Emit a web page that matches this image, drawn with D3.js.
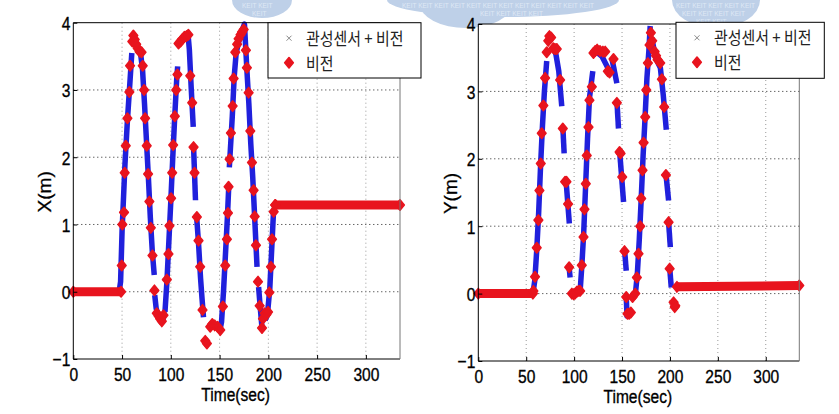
<!DOCTYPE html>
<html><head><meta charset="utf-8">
<script src="https://cdn.jsdelivr.net/npm/d3@7"></script>
<style>body{margin:0;background:#fff}svg{display:block}</style>
</head><body>
<svg id="c" width="839" height="414"></svg>
<script>
// ---------- data ----------
const timeTicks = [0, 50, 100, 150, 200, 250, 300];
const valueTicks = [-1, 0, 1, 2, 3, 4];
const legendLabels = ["관성센서 + 비전", "비전"];
const yTitles = ["X(m)", "Y(m)"];
const xTitle = "Time(sec)";
const watermarkWord = "KEIT";

// X(m): vision fixes [time, value]
const xVision = [[49.7,0.39],[50.3,1.0],[52,1.18],[52.7,1.77],[53.8,2.17],[55.5,2.58],[57.5,2.97],[58.2,3.36],[60.5,3.72],[61.6,3.81],[63,3.75],[64.5,3.68],[66,3.62],[68,3.57],[70,3.56],[71.2,3.36],[72.6,3.0],[73.6,2.58],[75.3,2.17],[76.7,1.75],[78,1.34],[79.5,0.95],[81.2,0.54],[83.2,0.02],[85.6,-0.32],[87.5,-0.36],[89,-0.4],[90.8,-0.44],[92.5,-0.35],[95.9,0.18],[97.6,0.56],[98.6,0.98],[100.3,1.39],[101.4,1.77],[102.4,2.18],[104.1,2.61],[105.5,3.0],[106.8,3.23],[107.9,3.69],[110,3.72],[112,3.76],[114,3.79],[116,3.8],[118,3.82],[119.9,3.21],[121.9,2.81],[123.3,2.15],[124.3,1.77],[126.7,1.11],[128.4,0.76],[130.1,0.37],[132.5,-0.27],[135.3,-0.73],[137,-0.77],[140.4,-0.52],[142.5,-0.48],[145,-0.5],[148,-0.52],[150.7,-0.57],[153.4,-0.22],[155.8,0.39],[157.5,0.78],[158.6,1.17],[159.2,1.56],[160.3,1.97],[161.6,2.36],[163.4,2.76],[164.4,3.17],[166.1,3.56],[168,3.68],[169.5,3.76],[171.5,3.82],[173,3.86],[174.7,3.9],[177,3.59],[178,3.33],[179.8,2.96],[181.5,2.39],[183.2,1.92],[184.9,1.51],[186,1.12],[187.3,0.69],[189.4,0.15],[191.1,-0.21],[193.5,-0.54],[194.5,-0.4],[196.2,-0.32],[198,-0.34],[199.7,-0.3],[201,-0.01],[202.7,0.37],[203.8,0.78],[205.5,1.19],[207.2,1.29]];
// dense constant stretches of vision fixes [t0, t1, v0, v1]
const xVisionRuns = [[0,49,0,0],[207,335,1.29,1.29]];
// inertial + vision (fused) segments
const xFused = [
  [[0,0],[47,0],[48.5,0.15],[50,0.9],[53,1.9],[55.5,2.55],[58,3.1],[60,3.55]],
  [[68.5,3.6],[71,3.3],[73,2.8],[75,2.25],[77,1.7],[79,1.1],[81,0.6],[83,0.25]],
  [[83.5,-0.05],[85,-0.25],[87,-0.35],[90,-0.45],[92,-0.42],[93.5,-0.3]],
  [[94,-0.3],[96,0.15],[98,0.75],[100,1.35],[102,2.0],[104,2.6],[106,3.15],[107,3.35]],
  [[117.5,3.85],[119,3.6],[121,3.0],[123,2.45]],
  [[123.3,2.17],[125.3,1.36]],
  [[126.3,1.15],[128.5,0.7],[130.5,0.2],[132,-0.1],[133.5,-0.38]],
  [[150,-0.6],[152,-0.45],[154,0.0],[156,0.55],[158,1.1],[159.5,1.6]],
  [[160,1.85],[163,2.6],[165,3.2],[167,3.55],[171,3.8],[175.5,3.98],[178,3.3],[180,2.8],[182,2.2],[184,1.7],[186,1.1],[188.4,0.37]],
  [[190,0.07],[191.5,-0.2],[193.5,-0.54]],
  [[196.6,-0.42],[199,-0.35],[201.5,0.05],[203.5,0.65],[205.2,1.16],[207,1.29],[335,1.29]]
];

// Y(m)
const yVision = [[57.5,0.04],[59.2,0.25],[61,0.68],[62.7,1.09],[63.8,1.53],[65.2,1.93],[66.2,2.38],[67.9,2.79],[69.7,3.2],[71.4,3.58],[73,3.75],[74.2,3.82],[76,3.8],[78.4,3.64],[80,3.63],[81.9,3.63],[85.4,3.17],[88.2,2.45],[90.6,1.66],[92,1.66],[93.7,1.33],[94.8,0.39],[97.6,0.0],[99.5,-0.01],[101,0.0],[103,0.03],[105,0.04],[106.3,0.04],[108,0.42],[109.8,0.84],[110.8,1.25],[112.2,1.63],[113.2,2.05],[115,2.47],[116,2.87],[118.5,3.07],[120.2,3.57],[122,3.6],[124,3.62],[127,3.6],[130,3.59],[132.4,3.59],[135.2,3.3],[137,3.28],[141.1,3.48],[144.6,2.83],[147.4,2.1],[148.5,2.08],[150.2,1.73],[152.6,0.63],[154.4,-0.05],[155.7,-0.3],[157.5,-0.3],[159.2,-0.28],[161,-0.05],[163.8,0.0],[165.5,0.24],[167.2,0.59],[169,1.0],[170,1.41],[171.4,1.83],[172.5,2.24],[174.2,2.62],[175.3,3.02],[177,3.42],[178.7,3.69],[180.1,3.87],[181.5,3.75],[184,3.59],[185.5,3.53],[187.1,3.47],[189.9,3.42],[191.6,3.18],[194,2.77],[195.8,1.76],[198.6,1.06],[199.7,0.37],[203.8,-0.13],[205,-0.2],[205.6,-0.18]];
const yVisionRuns = [[0,57,0,0],[207.3,335,0.1,0.12]];
const yFused = [
  [[0,0],[57,0],[59,0.2],[61,0.65],[63,1.2],[65,1.9],[67,2.5],[69,3.0],[71.4,3.45]],
  [[78.4,3.67],[81,3.55],[84,3.3],[87.1,2.78]],
  [[88.2,2.48],[89.6,2.08]],
  [[90.6,1.68],[92,1.6],[95,1.04]],
  [[94.8,0.39],[95.8,0.24]],
  [[97.6,0],[106.3,0.04],[108,0.4],[110,0.9],[112,1.6],[114,2.3],[116,2.9],[119.5,3.3]],
  [[122,3.6],[129,3.52],[136.2,3.32]],
  [[139.4,3.49],[144.6,3.12]],
  [[144.6,2.87],[146.3,2.45]],
  [[147.4,2.13],[151.6,1.36]],
  [[152.6,0.66],[154.4,0.34]],
  [[154.4,-0.05],[155.2,-0.33],[160,-0.25]],
  [[162,-0.05],[164,0.0],[166,0.3],[168,0.8],[170,1.4],[172,2.05],[174,2.6],[176,3.2],[178,3.6],[179.4,3.97]],
  [[181,3.8],[185,3.5],[190,3.35],[193,2.95],[196.2,2.43]],
  [[195.8,1.78],[198.6,1.38]],
  [[198.6,1.06],[200.4,0.69]],
  [[199.7,0.39],[201.4,0.09]],
  [[207.3,0.1],[335,0.12]]
];

// ---------- drawing ----------
const svg = d3.select("#c");
const RED = "#e8141e", BLUE = "#2020dc";
const NUMFONT = "'Liberation Sans', Arial, sans-serif";
const KRFONT = "'Noto Sans CJK KR', 'Noto Sans', sans-serif";

// watermark (behind everything)
const wm = svg.append("g");
const blobs = [
  {cx:262, cy:0, rx:30, ry:18},
  {cx:503, cy:0, rx:116, ry:17},
  {cx:466, cy:4, rx:46, ry:24},
  {cx:716, cy:0, rx:44, ry:28}
];
// watermark text rows: [x, baseline, repeat count]
const wmRows = [[242,8,2],[252,16,1],[402,8,12],[480,16,4],[676,8,5],[682,16,4],[696,24,2]];
blobs.forEach(b => wm.append("ellipse").attr("cx",b.cx).attr("cy",b.cy).attr("rx",b.rx).attr("ry",b.ry).attr("fill","#bed0e8"));
wmRows.forEach(r => {
  wm.append("text").attr("x", r[0]).attr("y", r[1])
    .attr("font-family", NUMFONT).attr("font-size", 6.5).attr("fill", "#dfe8f5")
    .text(d3.range(r[2]).map(()=>watermarkWord).join(" "));
});

const panels = [
  {vision:xVision, runs:xVisionRuns, fused:xFused, title:yTitles[0],
   px0:73.3, px1:400, py0:359, py1:22.7, titleX:51, legend:[268,22.7,421,78]},
  {vision:yVision, runs:yVisionRuns, fused:yFused, title:yTitles[1],
   px0:478.3, px1:799.3, py0:361, py1:24, titleX:457, legend:[676,22.3,824.3,78.3]}
];

function diamond(g, x, y, fill) {
  g.append("path")
    .attr("d", `M${x},${y-5.2}L${x+4.3},${y}L${x},${y+5.2}L${x-4.3},${y}Z`)
    .attr("fill", fill).attr("stroke", fill).attr("stroke-width", 1.6).attr("stroke-linejoin","round");
}

panels.forEach((p, idx) => {
  const x = d3.scaleLinear().domain([0, 335]).range([p.px0, p.px1]);
  const y = d3.scaleLinear().domain([-1, 4]).range([p.py0, p.py1]);
  const g = svg.append("g");

  g.append("rect").attr("x", p.px0).attr("y", p.py1).attr("width", p.px1-p.px0).attr("height", p.py0-p.py1).attr("fill","#fff");

  // grid
  g.append("g").selectAll("line").data(valueTicks.filter(v => v > -1 && v < 4)).join("line")
    .attr("x1", p.px0).attr("x2", p.px1).attr("y1", d => y(d)).attr("y2", d => y(d))
    .attr("stroke", "#222").attr("stroke-width", 1).attr("stroke-dasharray", "1,3");
  g.append("g").selectAll("line").data(timeTicks.filter(t => t > 0)).join("line")
    .attr("x1", d => x(d)).attr("x2", d => x(d)).attr("y1", p.py1).attr("y2", p.py0)
    .attr("stroke", "#999").attr("stroke-width", 1).attr("stroke-dasharray", "1,3");

  // fused (blue) segments
  const line = d3.line().x(d => x(d[0])).y(d => y(d[1]));
  g.append("g").selectAll("path").data(p.fused).join("path")
    .attr("d", line).attr("fill", "none").attr("stroke", BLUE)
    .attr("stroke-width", 5.5).attr("stroke-linejoin", "round").attr("stroke-linecap", "butt");

  // vision runs
  p.runs.forEach(r => {
    g.append("line").attr("x1", x(r[0])).attr("x2", x(r[1])).attr("y1", y(r[2])).attr("y2", y(r[3]))
      .attr("stroke", RED).attr("stroke-width", 9);
    diamond(g, x(r[0]), y(r[2]), RED);
    diamond(g, x(r[1]), y(r[3]), RED);
  });
  // vision markers
  const mg = g.append("g");
  p.vision.forEach(d => diamond(mg, x(d[0]), y(d[1]), RED));

  // axes frame
  g.append("line").attr("x1", p.px0).attr("x2", p.px1).attr("y1", p.py1).attr("y2", p.py1).attr("stroke", "#000");
  g.append("line").attr("x1", p.px0).attr("x2", p.px0).attr("y1", p.py1).attr("y2", p.py0).attr("stroke", "#000");
  g.append("line").attr("x1", p.px0).attr("x2", p.px1).attr("y1", p.py0).attr("y2", p.py0).attr("stroke", "#000");
  g.append("line").attr("x1", p.px1).attr("x2", p.px1).attr("y1", p.py1).attr("y2", p.py0).attr("stroke", "#777");

  // axes (inward ticks)
  const ax = g.append("g").attr("transform", `translate(0,${p.py0})`)
    .call(d3.axisBottom(x).tickValues(timeTicks).tickSize(-4).tickPadding(0).tickFormat(d3.format("d")));
  const ay = g.append("g").attr("transform", `translate(${p.px0},0)`)
    .call(d3.axisLeft(y).tickValues(valueTicks).tickSize(-4).tickPadding(0).tickFormat(d3.format("d")));
  [ax, ay].forEach(a => { a.select(".domain").remove(); a.selectAll(".tick line").attr("stroke", "#000"); });
  ax.selectAll(".tick text").attr("y", null).attr("dy", null)
    .attr("transform", "translate(0,22) scale(0.82,1)")
    .attr("font-family", NUMFONT).attr("font-size", 19).attr("fill", "#000")
    .attr("stroke", "#000").attr("stroke-width", 0.35).attr("text-anchor", "middle");
  ay.selectAll(".tick text").attr("x", null).attr("dy", null)
    .attr("transform", "translate(-3,6.8) scale(0.82,1)")
    .attr("font-family", NUMFONT).attr("font-size", 19).attr("fill", "#000")
    .attr("stroke", "#000").attr("stroke-width", 0.35).attr("text-anchor", "end");

  // titles
  g.append("text").attr("transform", `translate(${(p.px0+p.px1)/2 - 1},${p.py0 + 42}) scale(0.82,1)`)
    .attr("text-anchor", "middle").attr("font-family", NUMFONT).attr("font-size", 19)
    .attr("stroke", "#000").attr("stroke-width", 0.35).text(xTitle);
  g.append("text").attr("transform", `translate(${p.titleX},${(p.py0+p.py1)/2 + 1}) rotate(-90)`)
    .attr("text-anchor", "middle").attr("font-family", NUMFONT).attr("font-size", 19)
    .attr("stroke", "#000").attr("stroke-width", 0.3).text(p.title);

  // legend
  const [l0, t0, l1, t1] = p.legend;
  const lg = svg.append("g");
  lg.append("rect").attr("x", l0).attr("y", t0).attr("width", l1-l0).attr("height", t1-t0)
    .attr("fill", "#fff").attr("stroke", "#000").attr("stroke-width", 1);
  const mx = l0 + 21;
  lg.append("path").attr("d", `M${mx-2.5},${t0+13}L${mx+2.5},${t0+18}M${mx+2.5},${t0+13}L${mx-2.5},${t0+18}`)
    .attr("stroke", "#888").attr("stroke-width", 1);
  diamond(lg, mx, t0 + 40, RED);
  legendLabels.forEach((s, i) => {
    lg.append("text").attr("transform", `translate(${l0 + 38},${t0 + 22 + i*25}) scale(0.88,1)`)
      .attr("font-family", KRFONT).attr("font-size", 17).attr("fill", "#222").text(s);
  });
});
</script>
</body></html>
